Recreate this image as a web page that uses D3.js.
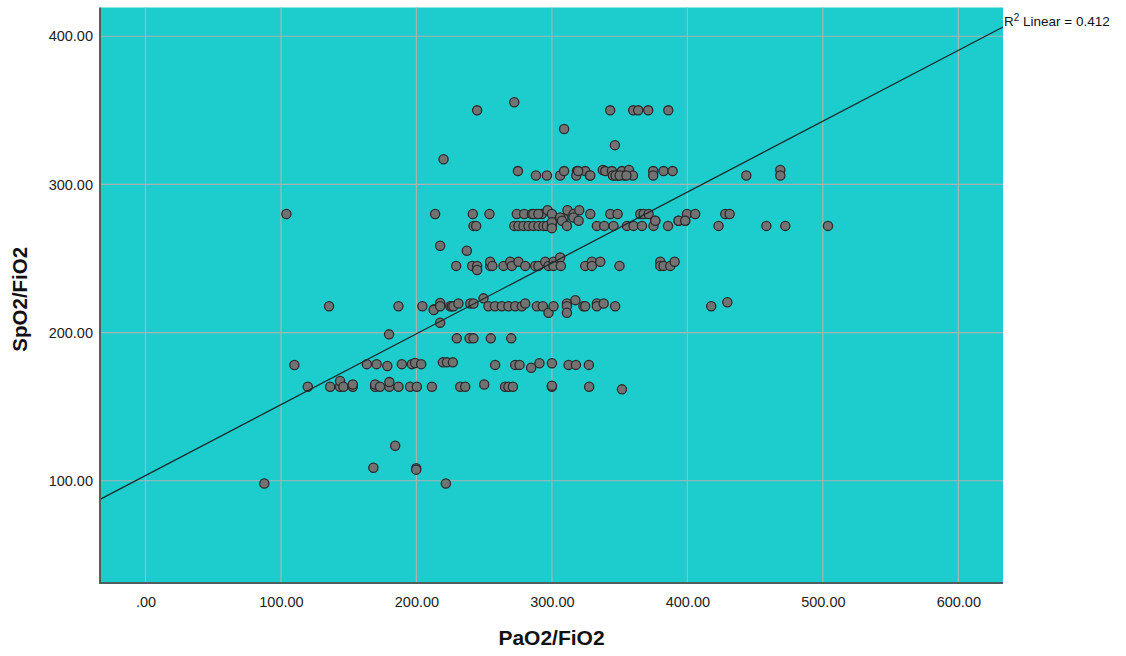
<!DOCTYPE html>
<html>
<head>
<meta charset="utf-8">
<script src="https://cdn.jsdelivr.net/npm/d3@7/dist/d3.min.js"></script>
<style>
  html, body { margin: 0; padding: 0; background: #ffffff; }
  svg { display: block; font-family: "Liberation Sans", Arial, sans-serif; }
</style>
</head>
<body>
<svg id="chart" width="1126" height="656"></svg>
<script>
// PaO2/FiO2 (x) against SpO2/FiO2 (y), one entry per patient observation
const pao2Fio2 = [
  // upper outliers
  244.8, 272.2, 343, 360, 363.7, 371.1, 385.9, 309, 346.5, 220,
  // ~306-310 band
  274.9, 288.2, 296.3, 306.1, 309, 318.5, 318, 324.6, 328, 337.6, 339.4, 344.3, 345,
  348.7, 351.7, 353.4, 356.9, 359.8, 374.8, 374.8, 382.4, 389.1, 443.5, 468.6, 468.6,
  347, 350, 355, 319.4, 328.3,
  // ~280 band
  104, 213.8, 241.6, 253.9, 274.1, 279.5, 285.2, 288.9, 292.6, 296.8, 300, 308.6,
  311.5, 316, 320.2, 328.3, 343.1, 348.5, 365.2, 367.7, 371.4, 399.7, 405.8, 428, 431.2,
  286.3, 290,
  // ~275 band
  306.1, 315.9, 376.3, 393.5, 398.4,
  // ~272 band
  242.1, 244.1, 272.2, 275.3, 279, 282.7, 286.4, 290.1, 293.8, 296.3, 300, 300, 300,
  307.4, 311.1, 319.7, 333.2, 338.6, 345.5, 355.4, 360.3, 366.5, 375, 376.3, 385.7,
  393.5, 398.4, 423, 458.3, 472.3, 503.8,
  // ~255-258
  217.5, 237.2,
  // ~245 band
  229.3, 241.1, 244.8, 244.8, 254.4, 254.4, 256, 264.3, 269.2, 270.4, 275.3, 280.3,
  287.7, 290.1, 295.1, 297.5, 301.2, 301.2, 306.1, 306.6, 324.6, 329.5, 329.5, 335.7,
  349.9, 380, 380, 382.4, 387.4, 390.6,
  // ~220 band
  249.5, 317.3, 429.5,
  135.5, 186.7, 204.4, 213, 212.7, 217.5, 217.5, 224.9, 226.1, 227.3, 231, 239.7,
  242.1, 253.1, 258, 263, 267.9, 272.9, 277.8, 280.3, 288.9, 293.3, 297.5, 301.2,
  311.1, 311.1, 311.1, 323.3, 324.6, 333.2, 333.2, 338.2, 346.7, 417.6,
  // ~196-206
  217.5, 179.8, 229.8, 239.2, 242.1, 254.9, 270,
  // ~178 band
  109.9, 163.4, 170.6, 178.5, 189.2, 196.6, 199, 203.5, 219.5, 222.5, 226.9, 258.1,
  272.9, 276.1, 284.7, 290.8, 300, 312.3, 317.7, 327.3,
  // ~163 band
  119.8, 136.3, 143.6, 143.6, 146.1, 153, 153, 169.5, 169.5, 173.1, 180, 180, 186.7,
  195.3, 200.3, 211.4, 232.3, 236, 250, 265.4, 267.9, 271.2, 300, 300, 327.5, 351.7,
  // lower outliers
  184.3, 168.2, 199.8, 199.8, 87.7, 221.7
];

const spo2Fio2 = [
  350, 355.5, 350, 350, 350, 350, 350, 337.4, 326.5, 317,
  309, 306, 306, 306, 309, 309, 306, 309, 306, 309.7, 309, 309, 306,
  306, 309, 306, 309.7, 306, 309, 306, 309, 309, 306, 309.7, 306,
  306, 306, 306, 309, 306,
  280, 280, 280, 280, 280, 280, 280, 280, 280, 282.6, 280, 277,
  282.6, 280, 282.6, 280, 280, 280, 280, 280, 280, 280, 280, 280, 280,
  280, 280,
  277.7, 277.7, 275.5, 275.5, 275.5,
  272, 272, 272, 272, 272, 272, 272, 272, 272, 272, 272, 274.5, 270.5,
  275.5, 272, 275.5, 272, 272, 272, 272, 272, 272, 272, 275.5, 272,
  275.5, 275.5, 272, 272, 272, 272,
  258.6, 255.2,
  245, 245, 245, 242.2, 245, 247.8, 245, 245, 247.8, 245, 247.8, 245,
  245, 245, 247.8, 245, 247.8, 245, 250.7, 245, 245, 247.8, 245, 247.8,
  245, 247.8, 245, 245, 245, 247.8,
  223.1, 221.9, 220.5,
  217.8, 217.8, 217.8, 215.7, 215.2, 220, 217.8, 217.8, 217.8, 217.8, 219.6, 219.6,
  219.6, 217.8, 217.8, 217.8, 217.8, 217.8, 217.8, 219.6, 217.8, 217.8, 213.4, 217.8,
  219.6, 217.8, 213.4, 217.8, 217.8, 219.6, 217.8, 219.6, 217.8, 217.8,
  206.6, 198.8, 196.1, 196.1, 196.1, 196.1, 196.1,
  178.1, 178.7, 178.7, 177.5, 178.7, 178.7, 179.5, 178.7, 179.9, 179.9, 179.9, 178.2,
  178.2, 178.2, 176.3, 179.3, 179.3, 178.2, 178.2, 178.2,
  163.4, 163.4, 163.4, 167.3, 163.4, 163.4, 165, 163.4, 165, 163.4, 163.4, 166.6, 163.4,
  163.4, 163.4, 163.4, 163.4, 163.4, 165, 163.4, 163.4, 163.4, 163.4, 164.2, 163.4, 161.7,
  123.6, 108.8, 108.4, 107.5, 98.2, 98.2
];

const xTicks = [0, 100, 200, 300, 400, 500, 600];
const yTicks = [100, 200, 300, 400];
const xDomain = [-33.6, 633];
const yDomain = [31, 419.4];

// linear fit reported for the sample
const fitIntercept = 103.5;
const fitSlope = 0.4783;
const fitR2 = "0.412";

const xTitle = "PaO2/FiO2";
const yTitle = "SpO2/FiO2";

const points = pao2Fio2.map((x, i) => ({ x, y: spo2Fio2[i] }));

const svg = d3.select("#chart");
const plot = { left: 100, top: 7.5, right: 1003, bottom: 583 };

const x = d3.scaleLinear().domain(xDomain).range([plot.left, plot.right]);
const y = d3.scaleLinear().domain(yDomain).range([plot.bottom, plot.top]);

const fmt = d => d === 0 ? ".00" : d3.format(".2f")(d);

// plot background
svg.append("rect")
  .attr("x", plot.left).attr("y", plot.top)
  .attr("width", plot.right - plot.left).attr("height", plot.bottom - plot.top)
  .attr("fill", "#1dcdcd");

// grid lines
const grid = svg.append("g").attr("stroke", "#a9b3b3").attr("stroke-width", 1.2);
grid.selectAll("line.vx").data(xTicks).join("line")
  .attr("x1", d => x(d)).attr("x2", d => x(d))
  .attr("y1", plot.top).attr("y2", plot.bottom);
grid.selectAll("line.hy").data(yTicks).join("line")
  .attr("x1", plot.left).attr("x2", plot.right)
  .attr("y1", d => y(d)).attr("y2", d => y(d));

// axes (labels only; the frame lines are drawn separately)
const xAxis = d3.axisBottom(x).tickValues(xTicks).tickFormat(fmt).tickSize(0).tickPadding(14);
const yAxis = d3.axisLeft(y).tickValues(yTicks).tickFormat(fmt).tickSize(0).tickPadding(7);

const gx = svg.append("g").attr("transform", `translate(0,${plot.bottom})`).call(xAxis);
const gy = svg.append("g").attr("transform", `translate(${plot.left},0)`).call(yAxis);
[gx, gy].forEach(g => {
  g.select(".domain").remove();
  g.selectAll("text")
    .attr("fill", "#222")
    .style("font-size", "14.5px")
    .style("font-family", "'Liberation Sans', Arial, sans-serif");
});

// scatter points
svg.append("g").selectAll("circle").data(points).join("circle")
  .attr("cx", d => x(d.x))
  .attr("cy", d => y(d.y))
  .attr("r", 4.6)
  .attr("fill", "#727272")
  .attr("stroke", "#2b2b2b")
  .attr("stroke-width", 1.3);

// regression line across the full x range
svg.append("line")
  .attr("x1", x(xDomain[0])).attr("y1", y(fitIntercept + fitSlope * xDomain[0]))
  .attr("x2", x(xDomain[1])).attr("y2", y(fitIntercept + fitSlope * xDomain[1]))
  .attr("stroke", "#1a2a2a").attr("stroke-width", 1.3);

// frame lines on left and bottom
svg.append("line")
  .attr("x1", plot.left).attr("x2", plot.left)
  .attr("y1", plot.top).attr("y2", plot.bottom + 1)
  .attr("stroke", "#4f5f5f").attr("stroke-width", 2);
svg.append("line")
  .attr("x1", plot.left).attr("x2", plot.right)
  .attr("y1", plot.bottom).attr("y2", plot.bottom)
  .attr("stroke", "#4f5f5f").attr("stroke-width", 2);

// fit label
const r2 = svg.append("text")
  .attr("x", x(xDomain[1]) + 1)
  .attr("y", y(fitIntercept + fitSlope * xDomain[1]) - 1)
  .attr("fill", "#111")
  .style("font-size", "13.5px");
r2.append("tspan").text("R");
r2.append("tspan").attr("dy", -5).style("font-size", "10px").text("2");
r2.append("tspan").attr("dy", 5).text(" Linear = " + fitR2);

// axis titles
svg.append("text")
  .attr("x", (plot.left + plot.right) / 2)
  .attr("y", 645)
  .attr("text-anchor", "middle")
  .attr("fill", "#111")
  .style("font-size", "21px").style("font-weight", "bold")
  .text(xTitle);

svg.append("text")
  .attr("transform", `translate(27,${(plot.top + plot.bottom) / 2 + 4}) rotate(-90)`)
  .attr("text-anchor", "middle")
  .attr("fill", "#111")
  .style("font-size", "20.5px").style("font-weight", "bold")
  .text(yTitle);
</script>
</body>
</html>
